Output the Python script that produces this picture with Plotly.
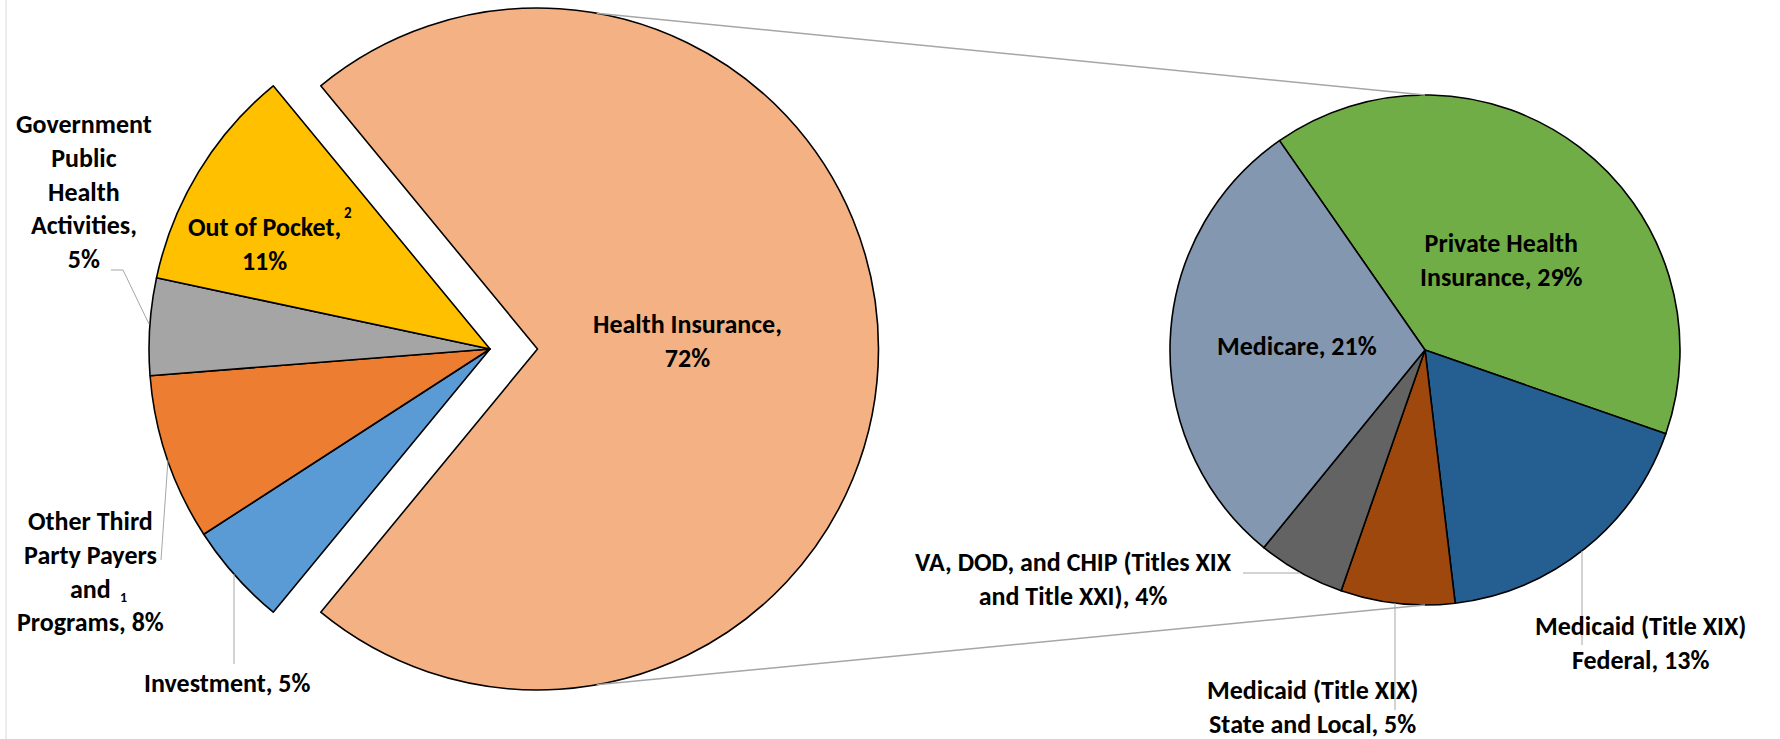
import math
import plotly.graph_objects as go

# ---------------- data ----------------
main_labels = ["Health Insurance", "Investment", "Other Third Party Payers and Programs",
               "Government Public Health Activities", "Out of Pocket"]
main_values = [72.0, 4.9, 7.9, 4.6, 10.7]
main_colors = ["#F4B183", "#5B9BD5", "#ED7D31", "#A5A5A5", "#FFC000"]
main_text = ["Health Insurance,<br>72%", "Investment, 5%", "Other Third<br>Party Payers<br>and<br>Programs, 8%",
             "Government<br>Public<br>Health<br>Activities,<br>5%", "Out of Pocket,<br>11%"]

sub_labels = ["Private Health Insurance", "Medicaid (Title XIX) Federal",
              "Medicaid (Title XIX) State and Local", "VA, DOD, and CHIP (Titles XIX and Title XXI)", "Medicare"]
sub_values = [28.8, 12.8, 5.2, 4.0, 21.2]
sub_colors = ["#70AD47", "#255E91", "#9E480E", "#636363", "#8497B0"]
sub_text = ["Private Health<br>Insurance, 29%", "Medicaid (Title XIX)<br>Federal, 13%",
            "Medicaid (Title XIX)<br>State and Local, 5%", "VA, DOD, and CHIP (Titles XIX<br>and Title XXI), 4%",
            "Medicare, 21%"]

# ---------------- layout geometry (pixels) ----------------
W, H = 1780, 739
R1 = 341
C_rest = (490, 349)      # centre of the small slices
C_health = (537.5, 349)  # centre of the exploded Health Insurance slice
R2 = 255
C2 = (1425, 350)
FONT = "Carlito, 'Liberation Sans Narrow', Lato, 'Open Sans', sans-serif"
FS = 26
TRANSPARENT = "rgba(0,0,0,0)"
GRAY = "#A6A6A6"


def px(x):
    return x / W


def py(y):
    return 1 - y / H


def dom(c, r):
    return dict(x=[px(c[0] - r), px(c[0] + r)], y=[py(c[1] + r), py(c[1] - r)])


total = sum(main_values)
gap = 360 * (1 - main_values[0] / total)
rot1 = gap / 2 - 90
rest_sum = total - main_values[0]

fig = go.Figure()
# Health insurance slice (exploded)
fig.add_trace(go.Pie(
    values=[main_values[0], rest_sum], labels=[main_labels[0], "rest"],
    sort=False, direction="clockwise", rotation=rot1,
    marker=dict(colors=[main_colors[0], TRANSPARENT],
                line=dict(color=["black", TRANSPARENT], width=1.6)),
    textinfo="none", hoverinfo="skip", showlegend=False, domain=dom(C_health, R1)))
# remaining slices of the main pie
fig.add_trace(go.Pie(
    values=main_values, labels=["hidden"] + main_labels[1:],
    sort=False, direction="clockwise", rotation=rot1,
    marker=dict(colors=[TRANSPARENT] + main_colors[1:],
                line=dict(color=[TRANSPARENT] + ["black"] * 4, width=1.6)),
    textinfo="none", hoverinfo="skip", showlegend=False, domain=dom(C_rest, R1)))
# breakdown pie
fig.add_trace(go.Pie(
    values=sub_values, labels=sub_labels,
    sort=False, direction="clockwise", rotation=-34.8,
    marker=dict(colors=sub_colors, line=dict(color="black", width=1.6)),
    textinfo="none", hoverinfo="skip", showlegend=False, domain=dom(C2, R2)))

shapes = []


def line(x0, y0, x1, y1, color=GRAY, width=1):
    shapes.append(dict(type="line", xref="paper", yref="paper",
                       x0=px(x0), y0=py(y0), x1=px(x1), y1=py(y1),
                       line=dict(color=color, width=width)))


# connector lines between the pies
a = math.radians(80)
line(C_health[0] + R1 * math.cos(a), C_health[1] - R1 * math.sin(a), C2[0], C2[1] - R2, width=1.5)
line(C_health[0] + R1 * math.cos(a), C_health[1] + R1 * math.sin(a), C2[0], C2[1] + R2, width=1.5)
# left border
line(6, 0, 6, H, color="#D9D9D9", width=1)
# leader lines
line(111, 270, 123, 270)
line(123, 270, 149, 324)
line(161, 560, 168, 460)
line(234, 664, 234, 574)
line(1243, 573, 1300, 573)
line(1395, 603, 1395, 710)
line(1582, 551, 1582, 645)

ann = []


def label(text, x, y, size=FS):
    ann.append(dict(text=text, x=px(x), y=py(y), xref="paper", yref="paper",
                    showarrow=False, xanchor="center", yanchor="middle", align="center",
                    font=dict(family=FONT, size=size, color="black", weight="bold")))


label(main_text[0], 687, 341)
label(main_text[1], 227, 683)
label(main_text[2], 90, 571)
label(main_text[3], 84, 191)
label(main_text[4], 264, 244)
label("2", 348, 213, 15)
label("1", 124, 597, 14)
label(sub_text[0], 1501, 260)
label(sub_text[1], 1640, 643)
label(sub_text[2], 1312, 707)
label(sub_text[3], 1073, 579)
label(sub_text[4], 1297, 346)

fig.update_layout(width=W, height=H, margin=dict(l=0, r=0, t=0, b=0),
                  paper_bgcolor="white", plot_bgcolor="white",
                  shapes=shapes, annotations=ann)
fig.write_html("out.html", config={"displayModeBar": False},
               post_script="document.body.style.margin='0px';")
